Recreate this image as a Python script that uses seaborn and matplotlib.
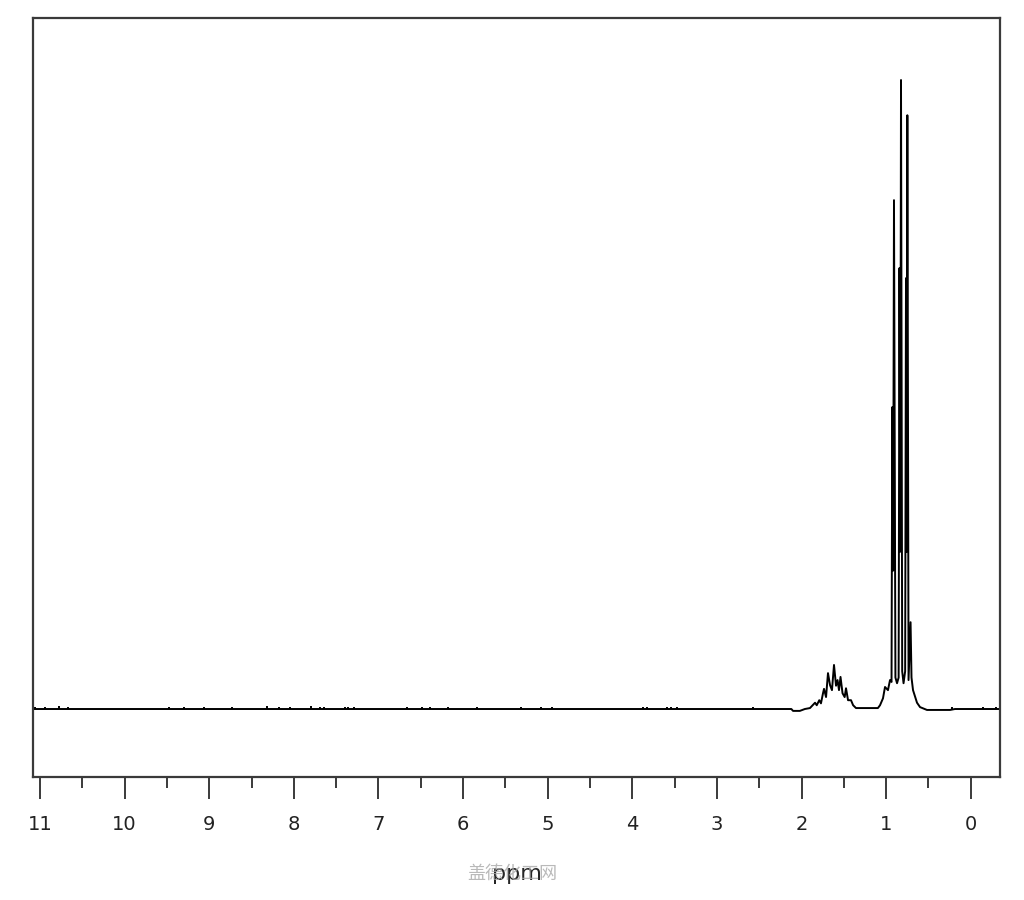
import numpy as np
import pandas as pd
import matplotlib
matplotlib.use("Agg")
import matplotlib.pyplot as plt
import seaborn as sns
from matplotlib.ticker import MultipleLocator

# ---- data (ppm, relative intensity; tallest line = 100) ----
trace_ppm = [11.08, 2.12, 2.10, 2.02, 1.96, 1.90, 1.84, 1.82, 1.79, 1.77, 1.746, 1.734,
             1.71, 1.687, 1.663, 1.64, 1.616, 1.592, 1.574, 1.557, 1.539, 1.515, 1.49,
             1.474, 1.45, 1.415, 1.39, 1.356, 1.097, 1.072, 1.037, 1.013, 0.978, 0.954,
             0.936, 0.927, 0.917, 0.907, 0.890, 0.871, 0.852, 0.842, 0.833, 0.824,
             0.810, 0.794, 0.775, 0.765, 0.757, 0.749, 0.735, 0.711, 0.700, 0.682,
             0.635, 0.599, 0.517, 0.245, 0.186, -0.35]
trace_int = [0.0, 0.0, -0.3, -0.3, 0.0, 0.15, 1.0, 0.6, 1.4, 0.9, 2.5, 3.2,
             1.9, 5.7, 3.8, 3.0, 7.0, 3.7, 4.6, 3.0, 5.1, 2.5, 1.9,
             3.3, 1.4, 1.4, 0.6, 0.15, 0.15, 0.6, 1.7, 3.5, 3.0, 4.6,
             4.3, 48.0, 22.0, 80.9, 5.0, 4.1, 5.0, 70.1, 25.0, 100.0,
             6.0, 4.1, 6.0, 68.5, 25.0, 94.4, 4.6, 13.8, 5.0, 3.0,
             1.0, 0.3, -0.15, -0.15, 0.0, 0.0]

# small noise spikes on the baseline
spike_ppm = [11.06, 10.94, 10.77, 10.67, 9.48, 9.30, 9.06, 8.73, 8.32, 8.17, 8.05,
             7.80, 7.69, 7.64, 7.39, 7.36, 7.29, 6.66, 6.48, 6.39, 6.18, 5.83, 5.32,
             5.08, 4.95, 3.87, 3.83, 3.59, 3.54, 3.47, 2.57, 0.22, -0.15, -0.30]
spike_int = [0.3, 0.3, 0.5, 0.3, 0.3, 0.3, 0.3, 0.3, 0.5, 0.3, 0.3,
             0.5, 0.3, 0.3, 0.3, 0.3, 0.3, 0.3, 0.3, 0.3, 0.3, 0.3, 0.3,
             0.3, 0.3, 0.3, 0.3, 0.3, 0.3, 0.3, 0.3, 0.3, 0.3, 0.3]

major_ticks = list(range(0, 12))
tick_labels = [str(t) for t in major_ticks]
x_label = "ppm"
watermark = "盖德化工网"

df = pd.DataFrame({"ppm": trace_ppm, "intensity": trace_int})

sns.set_style("white")
plt.rcParams["font.family"] = ["DejaVu Sans"]

fig = plt.figure(figsize=(10.24, 9.0), dpi=100)
ax = fig.add_axes([33 / 1024, 1 - 777 / 900, (1000 - 33) / 1024, (777 - 18) / 900])

sns.lineplot(data=df, x="ppm", y="intensity", sort=False, estimator=None,
             color="black", linewidth=1.4, ax=ax)
ax.vlines(spike_ppm, 0, spike_int, color="black", linewidth=1.4)

ax.set_xlim(11.083, -0.346)
ax.set_ylim(-10.81, 109.86)

ax.set_xticks(major_ticks)
ax.set_xticklabels(tick_labels, fontsize=14)
ax.xaxis.set_minor_locator(MultipleLocator(0.5))
ax.set_yticks([])
ax.set_ylabel("")
ax.set_xlabel(x_label, fontsize=16, labelpad=22)

for s in ax.spines.values():
    s.set_visible(True)
    s.set_color("#3a3a3a")
    s.set_linewidth(1.6)

ax.tick_params(axis="x", which="major", direction="out", length=16, width=1.4,
               color="#3a3a3a", pad=11, bottom=True, labelcolor="#222222")
ax.tick_params(axis="x", which="minor", direction="out", length=8, width=1.4,
               color="#3a3a3a", bottom=True)

fig.text(512 / 1024, 1 - 874 / 900, watermark, ha="center", va="center",
         fontsize=13, color="#a8a8a8", alpha=0.8,
         family=["Noto Sans CJK SC", "DejaVu Sans"])

fig.savefig("out.png", dpi=100)
